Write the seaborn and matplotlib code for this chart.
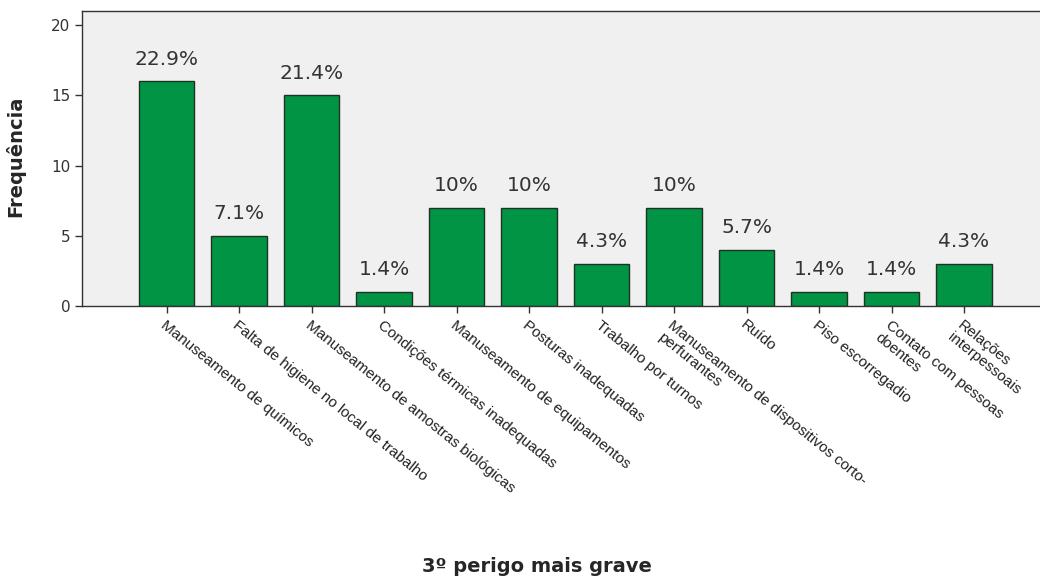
import matplotlib
matplotlib.use("Agg")
import matplotlib.pyplot as plt
import seaborn as sns
import pandas as pd

# dados do gráfico
categorias = [
    "Manuseamento de químicos",
    "Falta de higiene no local de trabalho",
    "Manuseamento de amostras biológicas",
    "Condições térmicas inadequadas",
    "Manuseamento de equipamentos",
    "Posturas inadequadas",
    "Trabalho por turnos",
    "Manuseamento de dispositivos corto-\nperfurantes",
    "Ruído",
    "Piso escorregadio",
    "Contato com pessoas\ndoentes",
    "Relações\ninterpessoais",
]
frequencias = [16, 5, 15, 1, 7, 7, 3, 7, 4, 1, 1, 3]

df = pd.DataFrame({"perigo": categorias, "freq": frequencias})
total = sum(frequencias)
rotulos = []
for f in frequencias:
    p = round(100 * f / total, 1)
    rotulos.append(f"{p:g}%")

sns.set_style("ticks")
plt.rcParams['font.family'] = ['Liberation Sans', 'DejaVu Sans']

fig = plt.figure(figsize=(10.4, 5.77), dpi=100)
# eixo com a borda direita fora da figura (como no original)
ax = fig.add_axes([82 / 1040, 271 / 577, 968 / 1040, 295 / 577])
ax.set_facecolor("#f0f0f0")

sns.barplot(data=df, x="perigo", y="freq", order=categorias, color="#009444",
            saturation=1, width=0.76, edgecolor="#1f3322", linewidth=1, ax=ax)

ax.bar_label(ax.containers[0], labels=rotulos, padding=9, fontsize=14.5,
             color="#333333", family="DejaVu Sans")

ax.set_xlim(-1.166, -1.166 + 968 / 72.5)
ax.set_ylim(0, 21)
ax.set_yticks([0, 5, 10, 15, 20])

for s in ax.spines.values():
    s.set_color("#333333")
    s.set_linewidth(1)

ax.tick_params(axis="y", length=5, width=1, color="#333333", labelsize=11, labelcolor="#333333")
ax.tick_params(axis="x", length=5, width=1, color="#333333", labelsize=11, labelcolor="#222222")
for t in ax.get_yticklabels():
    t.set_family("DejaVu Sans")
ax.set_xticks(range(len(categorias)))
ax.set_xticklabels(categorias, rotation=-39, ha="left", va="top", rotation_mode="anchor")

ax.set_ylabel("Frequência", fontsize=14, fontweight="bold", family="DejaVu Sans")
ax.set_xlabel("3º perigo mais grave", fontsize=14, fontweight="bold", family="DejaVu Sans")
ax.yaxis.set_label_coords(-0.059, 0.508)
ax.xaxis.set_label_coords(0.47, -0.85)

plt.savefig("out.png", dpi=100)
